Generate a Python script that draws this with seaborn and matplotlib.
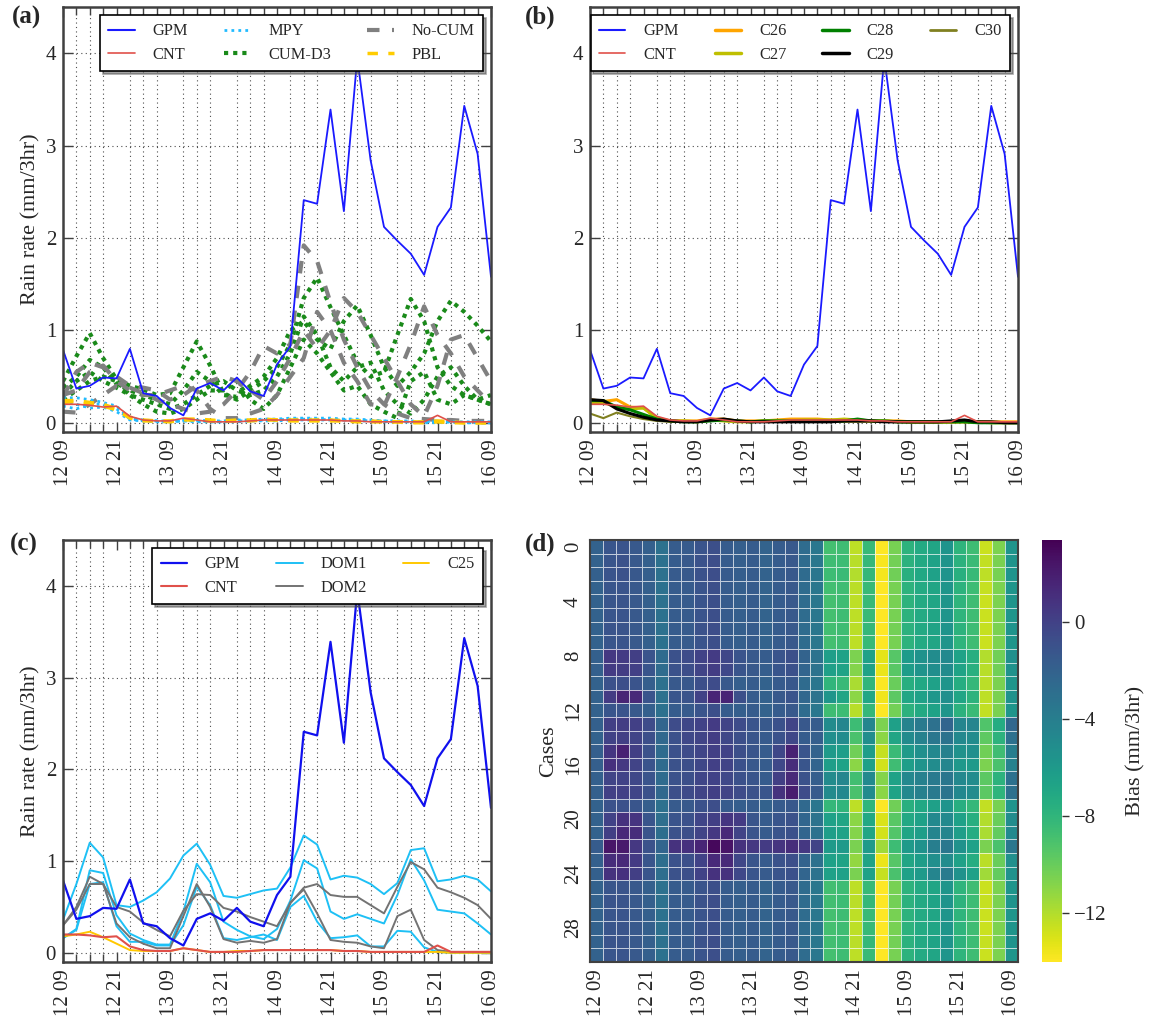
import numpy as np
import pandas as pd
import matplotlib
matplotlib.use("Agg")
import matplotlib.pyplot as plt
from matplotlib.lines import Line2D
import seaborn as sns

# time axis: 3-hourly from 12 09 to 16 09
steps = np.arange(33)
time_labels = ["12 09", "12 21", "13 09", "13 21", "14 09",
               "14 21", "15 09", "15 21", "16 09"]

gpm = [0.79, 0.37, 0.40, 0.49, 0.48, 0.80, 0.32, 0.29, 0.16, 0.08, 0.37,
       0.43, 0.35, 0.49, 0.34, 0.29, 0.63, 0.83, 2.41, 2.37, 3.39, 2.29,
       3.95, 2.84, 2.12, 1.97, 1.83, 1.60, 2.12, 2.33, 3.43, 2.91, 1.58]
cnt = [0.20, 0.20, 0.19, 0.17, 0.18, 0.07, 0.03, 0.02, 0.02, 0.05, 0.03,
       0.01, 0.01, 0.01, 0.02, 0.03, 0.03, 0.03, 0.03, 0.03, 0.03, 0.02,
       0.02, 0.01, 0.01, 0.01, 0.01, 0.01, 0.08, 0.01, 0.01, 0.01, 0.01]

# panel (a) ensembles
mpy = [
    [0.27, 0.27, 0.25, 0.22, 0.18, 0.05, 0.03, 0.02, 0.02, 0.03, 0.03, 0.02, 0.02, 0.03, 0.03, 0.04, 0.04,
     0.05, 0.05, 0.05, 0.05, 0.04, 0.04, 0.03, 0.02, 0.02, 0.02, 0.01, 0.01, 0.01, 0.01, 0.01, 0.01],
    [0.18, 0.15, 0.20, 0.20, 0.15, 0.04, 0.02, 0.02, 0.01, 0.02, 0.02, 0.01, 0.01, 0.01, 0.02, 0.02, 0.02,
     0.03, 0.03, 0.03, 0.03, 0.03, 0.02, 0.02, 0.01, 0.01, 0.01, 0.00, 0.00, 0.01, 0.00, 0.00, 0.00],
    [0.22, 0.20, 0.16, 0.17, 0.12, 0.03, 0.02, 0.01, 0.01, 0.02, 0.01, 0.01, 0.01, 0.02, 0.02, 0.03, 0.03,
     0.04, 0.04, 0.04, 0.03, 0.03, 0.03, 0.02, 0.02, 0.01, 0.01, 0.01, 0.02, 0.01, 0.00, 0.00, 0.00],
]
cum_d3 = [
    [0.45, 0.72, 0.97, 0.70, 0.47, 0.40, 0.36, 0.30, 0.32, 0.60, 0.88, 0.62, 0.32, 0.25, 0.35, 0.45, 0.60,
     0.85, 1.35, 1.57, 1.25, 0.95, 0.65, 0.50, 0.55, 0.95, 1.34, 1.10, 0.60, 0.40, 0.30, 0.25, 0.20],
    [0.38, 0.50, 0.68, 0.60, 0.42, 0.35, 0.30, 0.25, 0.20, 0.35, 0.55, 0.45, 0.30, 0.28, 0.40, 0.50, 0.70,
     1.00, 1.10, 0.90, 0.80, 1.10, 1.27, 0.95, 0.60, 0.40, 0.55, 0.75, 1.10, 1.32, 1.20, 1.05, 0.88],
    [0.30, 0.45, 0.55, 0.45, 0.38, 0.30, 0.20, 0.12, 0.10, 0.15, 0.25, 0.35, 0.35, 0.45, 0.25, 0.15, 0.30,
     0.60, 0.90, 0.75, 0.55, 0.35, 0.40, 0.20, 0.12, 0.05, 0.45, 0.55, 0.25, 0.20, 0.30, 0.25, 0.20],
    [0.25, 0.35, 0.45, 0.50, 0.45, 0.30, 0.25, 0.20, 0.15, 0.20, 0.30, 0.40, 0.45, 0.35, 0.30, 0.35, 0.50,
     0.75, 1.15, 0.95, 0.60, 0.45, 0.60, 0.65, 0.35, 0.20, 0.10, 0.25, 0.50, 0.60, 0.40, 0.25, 0.30],
]
no_cum = [
    [0.12, 0.11, 0.20, 0.30, 0.40, 0.38, 0.32, 0.25, 0.20, 0.15, 0.10, 0.12, 0.20, 0.35, 0.55, 0.83, 0.75,
     0.85, 1.92, 1.75, 1.30, 0.90, 0.60, 0.35, 0.20, 0.10, 0.05, 0.04, 0.03, 0.03, 0.02, 0.02, 0.02],
    [0.28, 0.55, 0.65, 0.60, 0.50, 0.40, 0.38, 0.35, 0.25, 0.30, 0.40, 0.45, 0.50, 0.45, 0.35, 0.25, 0.45,
     0.70, 1.00, 0.80, 1.00, 1.35, 1.20, 0.95, 0.70, 0.45, 0.20, 0.07, 0.40, 0.90, 0.95, 0.70, 0.45],
    [0.30, 0.35, 0.55, 0.62, 0.45, 0.35, 0.30, 0.30, 0.35, 0.40, 0.35, 0.15, 0.05, 0.05, 0.10, 0.15, 0.30,
     0.50, 0.70, 1.20, 1.00, 0.65, 0.45, 0.20, 0.18, 0.50, 0.85, 1.26, 0.95, 0.75, 0.50, 0.35, 0.20],
]
pbl = [
    [0.24, 0.24, 0.22, 0.20, 0.15, 0.06, 0.03, 0.02, 0.02, 0.04, 0.04, 0.03, 0.02, 0.03, 0.03, 0.04, 0.03,
     0.03, 0.03, 0.03, 0.03, 0.02, 0.02, 0.02, 0.01, 0.01, 0.01, 0.01, 0.02, 0.01, 0.00, 0.00, 0.00],
    [0.22, 0.23, 0.20, 0.18, 0.14, 0.05, 0.02, 0.02, 0.01, 0.03, 0.03, 0.02, 0.02, 0.02, 0.02, 0.03, 0.03,
     0.02, 0.02, 0.02, 0.02, 0.02, 0.01, 0.01, 0.01, 0.01, 0.00, 0.00, 0.01, 0.00, 0.00, 0.00, 0.00],
]

# panel (b) single runs
c26 = [0.25, 0.23, 0.25, 0.17, 0.16, 0.05, 0.02, 0.02, 0.02, 0.04, 0.04, 0.02, 0.02, 0.02, 0.03, 0.04, 0.04,
       0.04, 0.03, 0.03, 0.03, 0.02, 0.02, 0.02, 0.01, 0.01, 0.01, 0.01, 0.01, 0.01, 0.01, 0.01, 0.01]
c27 = [0.22, 0.22, 0.17, 0.15, 0.16, 0.05, 0.02, 0.02, 0.01, 0.03, 0.02, 0.01, 0.01, 0.02, 0.02, 0.02, 0.03,
       0.03, 0.03, 0.04, 0.03, 0.02, 0.02, 0.01, 0.01, 0.01, 0.01, 0.01, 0.01, 0.01, 0.00, 0.00, 0.00]
c28 = [0.24, 0.24, 0.17, 0.14, 0.09, 0.04, 0.02, 0.01, 0.01, 0.02, 0.03, 0.02, 0.01, 0.02, 0.02, 0.02, 0.02,
       0.02, 0.02, 0.02, 0.04, 0.02, 0.02, 0.01, 0.01, 0.01, 0.01, 0.01, 0.01, 0.00, 0.00, 0.00, 0.00]
c29 = [0.25, 0.24, 0.15, 0.10, 0.06, 0.03, 0.02, 0.01, 0.01, 0.03, 0.04, 0.02, 0.01, 0.01, 0.01, 0.01, 0.01,
       0.01, 0.01, 0.02, 0.02, 0.02, 0.01, 0.01, 0.01, 0.01, 0.01, 0.02, 0.03, 0.01, 0.01, 0.00, 0.00]
c30 = [0.10, 0.05, 0.11, 0.07, 0.04, 0.02, 0.01, 0.01, 0.01, 0.02, 0.02, 0.01, 0.01, 0.01, 0.01, 0.01, 0.01,
       0.01, 0.01, 0.01, 0.01, 0.01, 0.01, 0.01, 0.00, 0.00, 0.00, 0.00, 0.01, 0.00, 0.00, 0.00, 0.00]

# panel (c) nested domains
dom1 = [
    [0.36, 0.75, 1.20, 1.04, 0.52, 0.50, 0.57, 0.66, 0.81, 1.06, 1.19, 0.96, 0.62, 0.60, 0.64, 0.68, 0.70,
     0.93, 1.28, 1.18, 0.80, 0.84, 0.82, 0.75, 0.64, 0.76, 1.12, 1.14, 0.78, 0.80, 0.84, 0.80, 0.67],
    [0.16, 0.26, 0.90, 0.87, 0.41, 0.21, 0.14, 0.09, 0.09, 0.45, 0.97, 0.77, 0.34, 0.25, 0.18, 0.15, 0.26,
     0.57, 1.01, 0.92, 0.45, 0.37, 0.42, 0.37, 0.32, 0.63, 1.02, 0.79, 0.47, 0.45, 0.43, 0.32, 0.20],
    [0.16, 0.25, 0.75, 0.77, 0.29, 0.12, 0.12, 0.08, 0.08, 0.30, 0.72, 0.52, 0.16, 0.14, 0.17, 0.20, 0.14,
     0.50, 0.62, 0.34, 0.16, 0.17, 0.19, 0.07, 0.07, 0.24, 0.23, 0.06, 0.01, 0.00, 0.00, 0.00, 0.00],
]
dom2 = [
    [0.30, 0.50, 0.83, 0.75, 0.50, 0.45, 0.33, 0.25, 0.18, 0.46, 0.64, 0.63, 0.49, 0.45, 0.39, 0.34, 0.29,
     0.54, 0.71, 0.75, 0.63, 0.61, 0.61, 0.52, 0.43, 0.72, 0.99, 0.91, 0.71, 0.66, 0.60, 0.52, 0.37],
    [0.30, 0.47, 0.75, 0.75, 0.32, 0.17, 0.10, 0.05, 0.05, 0.40, 0.75, 0.50, 0.15, 0.11, 0.13, 0.11, 0.15,
     0.55, 0.69, 0.43, 0.14, 0.12, 0.11, 0.07, 0.05, 0.40, 0.47, 0.14, 0.03, 0.01, 0.01, 0.01, 0.01],
]
c25 = [0.18, 0.20, 0.23, 0.17, 0.10, 0.03, 0.02, 0.02, 0.02, 0.05, 0.03, 0.01, 0.01, 0.02, 0.02, 0.03, 0.03,
       0.03, 0.03, 0.03, 0.03, 0.02, 0.02, 0.01, 0.01, 0.01, 0.01, 0.01, 0.01, 0.00, 0.00, 0.00, 0.00]

# panel (d) bias per case (rows) and time (columns)
bias_rows = [
    "-2.0 -1.2 -1.1 -1.4 -1.9 -3.1 -1.6 -1.5 -1.1 -0.8 -1.6 -1.8 -1.6 -2.1 -1.6 -1.4 -2.7 -3.5 -8.8 -8.6 -12.3 -8.3 -14.0 -10.4 -7.8 -7.2 -6.8 -5.6 -7.9 -8.6 -12.6 -10.6 -5.6",
    "-2.0 -1.2 -1.0 -1.4 -1.9 -3.1 -1.6 -1.4 -1.0 -0.7 -1.6 -1.8 -1.6 -2.1 -1.6 -1.4 -2.7 -3.5 -8.6 -8.5 -12.1 -8.2 -13.8 -10.3 -7.7 -7.1 -6.6 -5.6 -7.7 -8.4 -12.4 -10.5 -5.6",
    "-1.9 -1.1 -1.0 -1.3 -1.8 -3.0 -1.5 -1.4 -1.0 -0.7 -1.5 -1.7 -1.6 -2.0 -1.6 -1.4 -2.6 -3.4 -8.5 -8.4 -12.0 -8.1 -13.7 -10.2 -7.6 -7.0 -6.5 -5.6 -7.6 -8.3 -12.3 -10.4 -5.6",
    "-2.0 -1.2 -1.1 -1.4 -1.9 -3.1 -1.6 -1.5 -1.1 -0.8 -1.6 -1.8 -1.6 -2.1 -1.6 -1.4 -2.7 -3.5 -8.7 -8.6 -12.2 -8.3 -14.0 -10.4 -7.8 -7.2 -6.8 -5.7 -7.8 -8.5 -12.5 -10.6 -5.7",
    "-2.0 -1.2 -1.1 -1.4 -1.9 -3.1 -1.6 -1.5 -1.1 -0.8 -1.6 -1.8 -1.6 -2.1 -1.6 -1.4 -2.7 -3.5 -8.8 -8.6 -12.3 -8.3 -14.0 -10.4 -7.8 -7.2 -6.8 -5.7 -7.9 -8.6 -12.6 -10.6 -5.7",
    "-2.0 -1.2 -1.1 -1.4 -1.9 -3.1 -1.6 -1.5 -1.1 -0.8 -1.6 -1.8 -1.6 -2.1 -1.6 -1.4 -2.7 -3.5 -8.8 -8.6 -12.3 -8.3 -14.0 -10.4 -7.8 -7.2 -6.8 -5.7 -7.9 -8.6 -12.6 -10.6 -5.7",
    "-2.0 -1.1 -1.1 -1.4 -1.9 -3.1 -1.6 -1.5 -1.0 -0.7 -1.6 -1.8 -1.6 -2.1 -1.6 -1.4 -2.7 -3.5 -8.7 -8.6 -12.2 -8.2 -14.0 -10.3 -7.7 -7.1 -6.7 -5.6 -7.8 -8.5 -12.5 -10.5 -5.6",
    "-2.0 -1.2 -1.1 -1.4 -1.9 -3.1 -1.6 -1.5 -1.1 -0.8 -1.6 -1.8 -1.6 -2.1 -1.6 -1.4 -2.7 -3.5 -8.8 -8.6 -12.3 -8.3 -14.0 -10.4 -7.8 -7.2 -6.8 -5.7 -7.9 -8.6 -12.6 -10.6 -5.7",
    "-1.9 0.6 0.4 0.2 -1.1 -2.6 -0.9 -0.6 0.0 0.4 -0.3 -1.1 -1.4 -1.6 -1.1 -0.8 -2.1 -3.2 -6.3 -6.6 -10.6 -6.5 -13.3 -9.4 -6.1 -5.5 -5.0 -4.8 -6.6 -7.5 -12.0 -10.2 -5.3",
    "-1.9 0.4 0.3 0.1 -1.2 -2.7 -1.0 -0.7 -0.1 0.3 -0.4 -1.2 -1.4 -1.7 -1.2 -0.9 -2.2 -3.2 -6.4 -6.7 -10.8 -6.6 -13.4 -9.5 -6.2 -5.6 -5.1 -4.9 -6.7 -7.6 -12.1 -10.2 -5.4",
    "-2.0 -0.9 -0.8 -1.1 -1.8 -3.0 -1.4 -1.3 -0.8 -0.6 -1.4 -1.8 -1.6 -2.0 -1.5 -1.3 -2.6 -3.4 -8.0 -8.3 -11.8 -8.0 -13.9 -10.0 -7.5 -7.0 -6.5 -5.7 -7.4 -8.2 -12.2 -10.5 -5.7",
    "-2.0 0.4 1.7 1.4 -1.1 -3.0 -1.2 -1.1 0.0 1.6 1.7 -0.8 -1.6 -2.0 -1.4 -1.1 -2.4 -3.2 -5.7 -6.8 -11.0 -6.9 -13.6 -9.6 -6.9 -6.5 -5.8 -5.2 -6.8 -7.8 -12.3 -10.5 -5.5",
    "-2.0 -1.2 -1.1 -1.4 -1.9 -3.1 -1.6 -1.5 -1.1 -0.8 -1.6 -1.8 -1.6 -2.1 -1.6 -1.4 -2.7 -3.5 -8.6 -8.5 -12.1 -8.2 -14.0 -10.3 -7.7 -7.1 -6.6 -5.7 -7.7 -8.4 -12.4 -10.5 -5.7",
    "-1.9 0.2 0.3 0.1 -0.6 -2.2 -0.6 -0.3 0.0 0.4 -0.1 -0.6 -1.1 -1.4 -0.9 -0.1 -1.3 -1.6 -4.9 -4.6 -8.5 -4.6 -10.6 -6.4 -4.4 -3.7 -3.0 -2.2 -4.5 -4.5 -9.2 -7.3 -2.4",
    "-2.0 0.0 0.2 -0.1 -0.8 -2.4 -0.9 -0.4 -0.1 0.3 -0.3 -0.8 -1.2 -1.5 -1.0 -0.3 -1.6 -1.8 -5.2 -5.0 -9.0 -5.1 -11.0 -6.8 -4.9 -4.3 -3.5 -3.2 -4.8 -5.0 -9.7 -7.8 -3.0",
    "-1.8 0.7 1.8 0.2 -1.0 -2.6 -0.9 -0.6 -0.2 0.2 0.0 -0.8 -1.2 -1.6 -0.3 1.8 -1.1 -2.1 -6.0 -6.3 -10.2 -6.2 -12.5 -8.4 -6.0 -5.3 -4.7 -4.2 -5.5 -5.3 -10.2 -8.6 -4.0",
    "-1.8 1.0 0.6 -0.1 -1.1 -2.6 -1.0 -0.8 -0.3 0.1 -0.1 -0.9 -1.3 -1.6 -0.4 1.2 -1.2 -2.2 -6.3 -6.6 -11.0 -6.4 -12.8 -8.6 -6.3 -5.6 -5.0 -4.6 -5.9 -6.0 -10.6 -9.0 -4.3",
    "-1.9 -0.1 0.0 -0.3 -1.1 -2.6 -1.0 -0.8 -0.2 0.0 -0.4 -0.9 -1.2 -1.6 0.2 1.4 -1.0 -1.8 -4.9 -4.6 -8.7 -4.8 -10.8 -6.6 -4.7 -4.2 -3.7 -3.4 -4.7 -5.0 -9.6 -7.8 -3.1",
    "-1.9 0.1 0.1 -0.2 -0.9 -2.4 -0.8 -0.5 -0.1 0.2 -0.1 -0.6 -1.0 -1.2 0.9 2.0 -0.6 -1.5 -4.9 -4.7 -9.0 -4.9 -11.0 -6.7 -4.7 -4.2 -3.7 -3.3 -4.7 -5.0 -9.6 -7.9 -3.0",
    "-2.0 -1.0 -0.9 -1.2 -1.8 -3.0 -1.5 -1.4 -0.9 -0.7 -1.5 -1.7 -1.6 -2.0 -1.5 -1.3 -2.5 -3.4 -8.2 -8.0 -12.3 -8.0 -14.0 -10.2 -7.6 -7.0 -6.4 -5.6 -7.5 -8.2 -12.4 -10.4 -5.6",
    "-2.0 0.0 0.9 0.8 -1.2 -2.9 -1.1 -0.9 -0.2 0.2 0.7 0.4 -1.2 -1.6 -1.2 -1.0 -2.3 -3.2 -6.5 -6.8 -11.0 -7.0 -13.0 -9.5 -7.0 -6.5 -4.8 -4.8 -6.5 -7.5 -12.0 -10.0 -5.0",
    "-2.0 0.2 1.4 1.2 -1.1 -2.8 -1.0 -0.8 -0.1 0.6 1.4 -0.1 -1.1 -1.5 -1.1 -0.9 -2.2 -3.1 -6.3 -6.6 -10.8 -6.8 -12.8 -9.3 -6.8 -6.3 -4.5 -4.5 -6.3 -7.3 -11.8 -9.8 -4.8",
    "-1.6 2.4 2.2 0.6 -1.0 -2.2 0.9 1.0 1.6 3.0 2.5 0.9 0.6 0.4 0.8 1.2 0.6 -0.1 -6.0 -6.0 -10.5 -6.0 -11.5 -8.5 -6.0 -5.5 -4.0 -3.5 -5.5 -6.5 -10.5 -9.0 -3.5",
    "-1.9 1.2 1.4 0.4 -1.2 -2.8 -1.0 -0.8 0.0 1.4 1.4 -0.3 -1.2 -1.5 -1.0 -0.8 -2.1 -3.1 -6.5 -6.7 -11.2 -6.7 -13.5 -9.4 -6.8 -6.2 -5.2 -5.0 -6.5 -7.4 -12.2 -10.0 -5.3",
    "-1.9 0.9 1.0 0.2 -1.2 -2.8 -1.0 -0.8 0.0 0.9 0.9 -0.4 -1.2 -1.5 -1.1 -0.9 -2.2 -3.2 -6.5 -6.5 -10.5 -6.5 -12.5 -9.0 -6.5 -6.0 -4.5 -3.8 -5.5 -6.5 -11.5 -9.8 -5.5",
    "-2.0 -1.2 -1.1 -1.4 -1.9 -3.1 -1.6 -1.5 -1.1 -0.8 -1.6 -1.8 -1.6 -2.1 -1.6 -1.4 -2.7 -3.5 -8.7 -8.5 -12.3 -8.3 -14.0 -10.4 -7.8 -7.2 -6.8 -5.7 -7.9 -8.6 -12.6 -10.6 -5.7",
    "-2.0 -1.1 -1.1 -1.4 -1.9 -3.1 -1.6 -1.5 -1.0 -0.7 -1.6 -1.8 -1.6 -2.1 -1.6 -1.4 -2.7 -3.5 -8.7 -8.5 -12.2 -8.2 -14.0 -10.3 -7.7 -7.1 -6.7 -5.6 -7.8 -8.5 -12.5 -10.5 -5.6",
    "-2.0 -1.2 -1.1 -1.4 -1.9 -3.1 -1.6 -1.5 -1.1 -0.8 -1.6 -1.8 -1.6 -2.1 -1.6 -1.4 -2.7 -3.5 -8.8 -8.6 -12.3 -8.3 -14.0 -10.4 -7.8 -7.2 -6.8 -5.7 -7.9 -8.6 -12.6 -10.6 -5.7",
    "-2.0 -1.2 -1.1 -1.4 -1.9 -3.1 -1.6 -1.5 -1.1 -0.8 -1.6 -1.8 -1.6 -2.1 -1.6 -1.4 -2.7 -3.5 -8.8 -8.6 -12.3 -8.3 -14.0 -10.4 -7.8 -7.2 -6.8 -5.7 -7.9 -8.6 -12.6 -10.6 -5.7",
    "-2.0 -1.1 -1.1 -1.4 -1.9 -3.1 -1.6 -1.5 -1.0 -0.7 -1.6 -1.8 -1.6 -2.1 -1.6 -1.4 -2.7 -3.5 -8.7 -8.5 -12.2 -8.2 -14.0 -10.3 -7.7 -7.1 -6.7 -5.6 -7.8 -8.5 -12.5 -10.5 -5.6",
    "-2.0 -1.2 -1.1 -1.4 -1.9 -3.1 -1.6 -1.5 -1.1 -0.8 -1.6 -1.8 -1.6 -2.1 -1.6 -1.4 -2.7 -3.5 -8.8 -8.6 -12.3 -8.3 -14.0 -10.4 -7.8 -7.2 -6.8 -5.7 -7.9 -8.6 -12.6 -10.6 -5.7",
]
bias = pd.DataFrame([[float(v) for v in r.split()] for r in bias_rows])

sns.set_theme(style="white")
plt.rcParams["font.family"] = ["Liberation Serif", "DejaVu Serif"]
plt.rcParams["axes.unicode_minus"] = True

W, H = 1149, 1023
fig = plt.figure(figsize=(W / 100, H / 100), dpi=100)


def box(x0, y0, x1, y1):
    return [x0 / W, 1 - y1 / H, (x1 - x0) / W, (y1 - y0) / H]


ax_a = fig.add_axes(box(63, 7, 491, 432))
ax_b = fig.add_axes(box(590, 7, 1018, 432))
ax_c = fig.add_axes(box(63, 540, 491, 962))
ax_d = fig.add_axes(box(590, 540, 1018, 962))
cax = fig.add_axes(box(1042, 540, 1062, 962))

TICK = 15


def line(ax, y, color, lw=1.0, ls="-"):
    sns.lineplot(x=steps, y=y, ax=ax, color=color, lw=lw, linestyle=ls,
                 errorbar=None, legend=False)


def style_ts(ax):
    ax.set_xlim(0, 32)
    ax.set_ylim(-0.1, 4.5)
    ax.set_xticks(steps[::4])
    ax.set_xticklabels(time_labels, rotation=90, fontsize=TICK)
    ax.set_xticks(steps, minor=True)
    ax.set_yticks([0, 1, 2, 3, 4])
    ax.set_yticklabels(["0", "1", "2", "3", "4"], fontsize=TICK)
    ax.set_xlabel("")
    ax.set_ylabel("")
    ax.tick_params(which="both", direction="in", top=True, right=True,
                   bottom=True, left=True, color="0.25", pad=5)
    ax.tick_params(which="major", length=7, width=1)
    ax.tick_params(which="minor", length=6, width=1)
    ax.grid(False)
    ax.xaxis.grid(True, which="minor", color="0.3", ls=(0, (1, 3)), lw=0.8)
    ax.yaxis.grid(True, which="major", color="0.3", ls=(0, (1, 3)), lw=0.8)
    for s in ax.spines.values():
        s.set_color("0.25")
        s.set_linewidth(1.8)


def legend(ax, handles, ncol):
    leg = ax.legend(handles=handles, ncol=ncol, loc="upper right", fontsize=11.8,
                    frameon=True, fancybox=False, shadow=True, framealpha=1,
                    edgecolor="black", handlelength=1.6, handletextpad=1.1,
                    columnspacing=2.2, labelspacing=0.45, borderpad=0.5)
    leg.get_frame().set_linewidth(1.2)


BLUE = "#1a1aff"
RED = "#e0504a"

# (a)
for m in cum_d3:
    line(ax_a, m, "#1a8a1a", lw=3.0, ls=(0, (1, 1.2)))
for m in no_cum:
    line(ax_a, m, "0.5", lw=3.0, ls=(0, (3, 3)))
for m in mpy:
    line(ax_a, m, "#22bbff", lw=2.0, ls=(0, (1, 1.5)))
for m in pbl:
    line(ax_a, m, "#ffcc00", lw=2.5, ls=(0, (3, 3)))
line(ax_a, cnt, RED, lw=1.2)
line(ax_a, gpm, BLUE, lw=1.3)
style_ts(ax_a)
ax_a.set_ylabel("Rain rate (mm/3hr)", fontsize=16, labelpad=4)
legend(ax_a, [
    Line2D([], [], color=BLUE, lw=1.5, label="GPM"),
    Line2D([], [], color=RED, lw=1.2, label="CNT"),
    Line2D([], [], color="#22bbff", lw=2.0, ls=(0, (1, 1.5)), label="MPY"),
    Line2D([], [], color="#1a8a1a", lw=3.0, ls=(0, (1, 1.2)), label="CUM-D3"),
    Line2D([], [], color="0.5", lw=3.0, ls=(0, (3, 3)), label="No-CUM"),
    Line2D([], [], color="#ffcc00", lw=2.5, ls=(0, (3, 3)), label="PBL"),
], 3)

# (b)
line(ax_b, c30, "#808020", lw=1.5)
line(ax_b, c26, "#ffa500", lw=2.2)
line(ax_b, c27, "#bfbf00", lw=2.2)
line(ax_b, c28, "#008000", lw=2.2)
line(ax_b, c29, "black", lw=2.2)
line(ax_b, cnt, RED, lw=1.2)
line(ax_b, gpm, BLUE, lw=1.3)
style_ts(ax_b)
legend(ax_b, [
    Line2D([], [], color=BLUE, lw=1.5, label="GPM"),
    Line2D([], [], color=RED, lw=1.2, label="CNT"),
    Line2D([], [], color="#ffa500", lw=2.5, label="C26"),
    Line2D([], [], color="#bfbf00", lw=2.5, label="C27"),
    Line2D([], [], color="#008000", lw=2.5, label="C28"),
    Line2D([], [], color="black", lw=2.5, label="C29"),
    Line2D([], [], color="#808020", lw=2.0, label="C30"),
], 4)

# (c)
for m in dom1:
    line(ax_c, m, "#1ec0f5", lw=1.4)
for m in dom2:
    line(ax_c, m, "0.45", lw=1.4)
line(ax_c, c25, "#ffc800", lw=1.4)
line(ax_c, cnt, RED, lw=1.5)
line(ax_c, gpm, "#1010ee", lw=1.6)
style_ts(ax_c)
ax_c.set_ylabel("Rain rate (mm/3hr)", fontsize=16, labelpad=4)
legend(ax_c, [
    Line2D([], [], color="#1010ee", lw=1.6, label="GPM"),
    Line2D([], [], color=RED, lw=1.5, label="CNT"),
    Line2D([], [], color="#1ec0f5", lw=1.4, label="DOM1"),
    Line2D([], [], color="0.45", lw=1.4, label="DOM2"),
    Line2D([], [], color="#ffc800", lw=1.4, label="C25"),
], 3)

# (d)
sns.heatmap(bias, ax=ax_d, cmap="viridis_r", vmin=-14, vmax=3.4,
            linewidths=0.6, linecolor="#ffffffb0", cbar_ax=cax,
            cbar_kws={"ticks": [0, -4, -8, -12]},
            xticklabels=False, yticklabels=False)
ax_d.set_xticks(np.arange(0, 33, 4) + 0.5)
ax_d.set_xticklabels(time_labels, rotation=90, fontsize=TICK)
ax_d.set_xticks(np.arange(33) + 0.5, minor=True)
ax_d.set_yticks(np.arange(0, 31, 4) + 0.5)
ax_d.set_yticklabels([str(v) for v in range(0, 31, 4)], rotation=90,
                     va="center", fontsize=TICK)
ax_d.set_yticks(np.arange(0, 31, 2) + 0.5, minor=True)
ax_d.tick_params(which="both", direction="in", top=True, right=True,
                 bottom=True, left=True, color="0.2", pad=5)
ax_d.tick_params(which="major", length=7, width=1)
ax_d.tick_params(which="minor", length=6, width=1)
for s in ax_d.spines.values():
    s.set_visible(True)
    s.set_color("0.25")
    s.set_linewidth(1.5)
ax_d.set_ylabel("Cases", fontsize=16, labelpad=4)
ax_d.set_xlabel("")

cax.tick_params(labelsize=TICK, length=5, width=1, color="0.2", direction="out")
cax.set_yticklabels(["0", "\u22124", "\u22128", "\u221212"])
cax.set_ylabel("Bias (mm/3hr)", fontsize=16, labelpad=14)

for txt, x, y in [("(a)", 12, 6), ("(b)", 525, 6), ("(c)", 10, 533), ("(d)", 525, 533)]:
    fig.text(x / W, 1 - y / H, txt, fontsize=18, fontweight="bold", va="top", ha="left")

fig.savefig("out.png", dpi=100)
